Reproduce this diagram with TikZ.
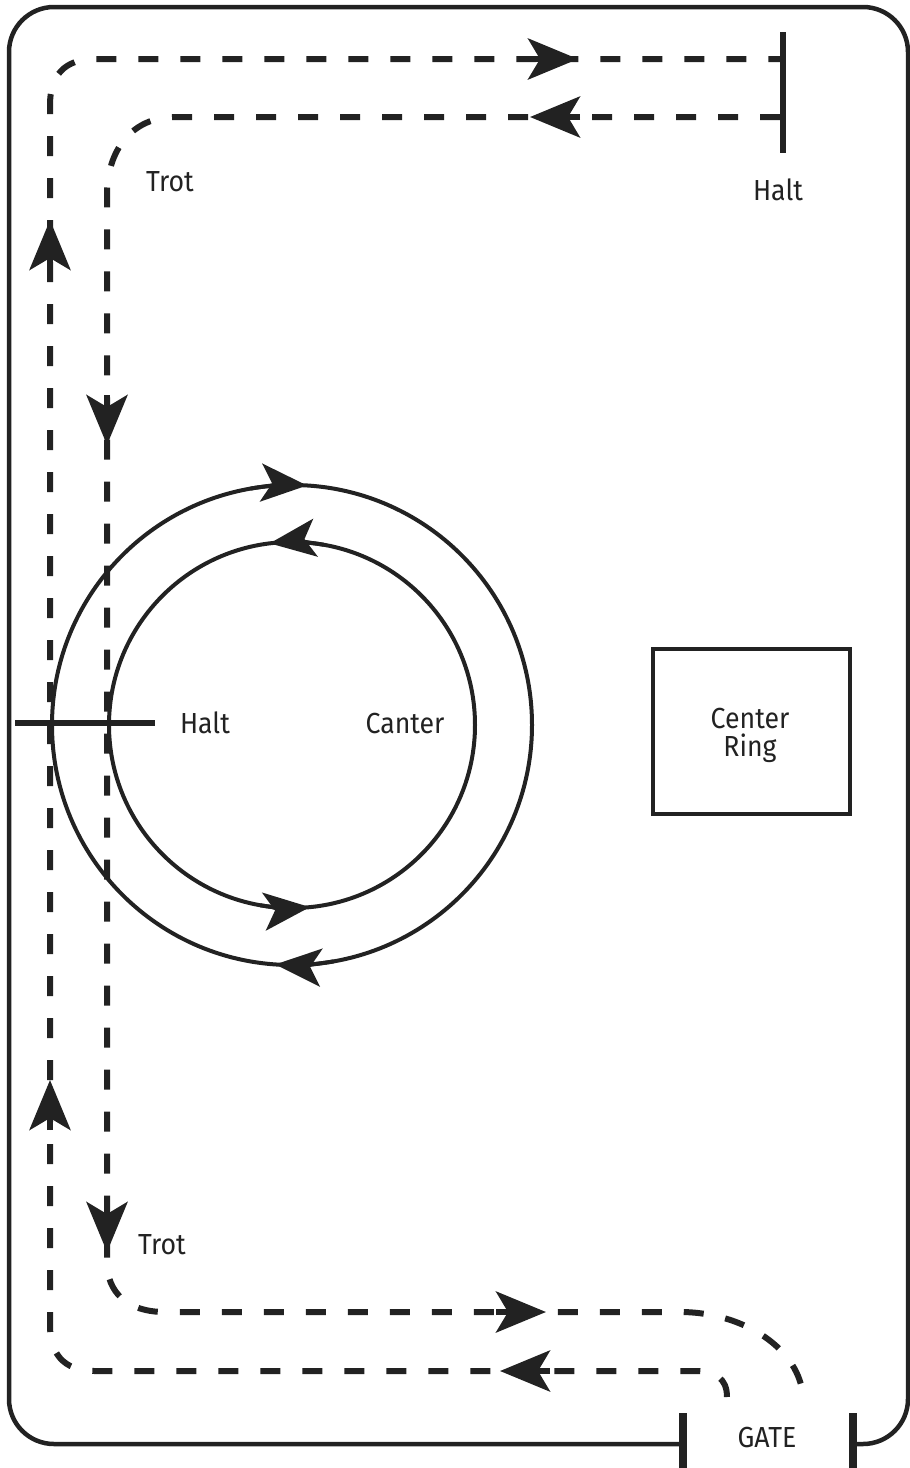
\documentclass[tikz,border=0pt]{standalone}
\usepackage{fontspec}
\setmainfont{Fira Sans}[FakeStretch=0.92]
\usetikzlibrary{arrows.meta}
\definecolor{ink}{RGB}{34,34,34}
\tikzset{
  wall/.style={draw=ink, line width=4.5pt},
  ringline/.style={draw=ink, line width=4pt},
  bar/.style={draw=ink, line width=6pt},
  post/.style={draw=ink, line width=7.5pt},
  trail/.style={draw=ink, line width=6pt, dash pattern=on 20pt off 22pt},
  bigtip/.style={draw=ink, fill=ink, line width=6pt, -{Stealth[length=50pt,width=41pt,inset=12pt]}},
  ringtip/.style={draw=ink, fill=ink, line width=4pt, -{Stealth[length=46pt,width=38pt,inset=11pt]}},
  lbl/.style={text=ink, font=\fontsize{29}{30}\selectfont, inner sep=0pt, align=center},
}
\begin{document}
\begin{tikzpicture}[x=1pt,y=-1pt]
\useasboundingbox (0,0) rectangle (910,1468);
% arena wall
\draw[wall, rounded corners=45pt] (683,1444) -- (9,1444) -- (9,7) -- (908,7) -- (908,1444) -- (853,1444);
% gate posts
\draw[post] (683,1413) -- (683,1468);
\draw[post] (853,1413) -- (853,1468);
\node[lbl] (gate) at (767,1437) {GATE};
% center ring
\draw[wall] (653,649) rectangle (850,814);
\node[lbl] (ring1) at (750,718) {Center};
\node[lbl] (ring2) at (750,748) {Ring};
% circles
\coordinate (c) at (292,725);
\draw[ringline] (c) circle[radius=240];
\draw[ringline] (c) circle[radius=183];
\draw[ringtip] (c) ++(-100:240) arc[start angle=-100, end angle=-86.4, radius=240];
\draw[ringtip] (c) ++(80:240) arc[start angle=80, end angle=94, radius=240];
\draw[ringtip] (c) ++(-80:183) arc[start angle=-80, end angle=-97, radius=183];
\draw[ringtip] (c) ++(100:183) arc[start angle=100, end angle=84.4, radius=183];
% trails
\draw[trail] (727,1397) .. controls (727,1378) and (715,1371) .. (695,1371) -- (95,1371)
  .. controls (62,1371) and (50,1352) .. (50,1325) -- (50,105)
  .. controls (50,76) and (64,59) .. (95,59) -- (780,59);
\draw[trail] (780,117) -- (175,117) .. controls (132,117) and (107,150) .. (107,195) -- (107,1262)
  .. controls (107,1292) and (127,1312) .. (165,1312) -- (680,1312)
  .. controls (745,1312) and (800,1350) .. (803,1397);
% trail arrowheads
\draw[bigtip] (528,59) -- (578,59);
\draw[bigtip] (580,117) -- (530,117);
\draw[bigtip] (50,270) -- (50,220);
\draw[bigtip] (50,1130) -- (50,1080);
\draw[bigtip] (107,395) -- (107,445);
\draw[bigtip] (107,1202) -- (107,1252);
\draw[bigtip] (496,1312) -- (546,1312);
\draw[bigtip] (550,1371) -- (500,1371);
% halt markers
\draw[bar] (783,32) -- (783,153);
\draw[bar] (15,723) -- (155,723);
% labels
\node[lbl] (trot1) at (170,182) {Trot};
\node[lbl] (halt1) at (778,190) {Halt};
\node[lbl] (halt2) at (205,723) {Halt};
\node[lbl] (canter) at (405,723) {Canter};
\node[lbl] (trot2) at (162,1245) {Trot};
\end{tikzpicture}
\end{document}
